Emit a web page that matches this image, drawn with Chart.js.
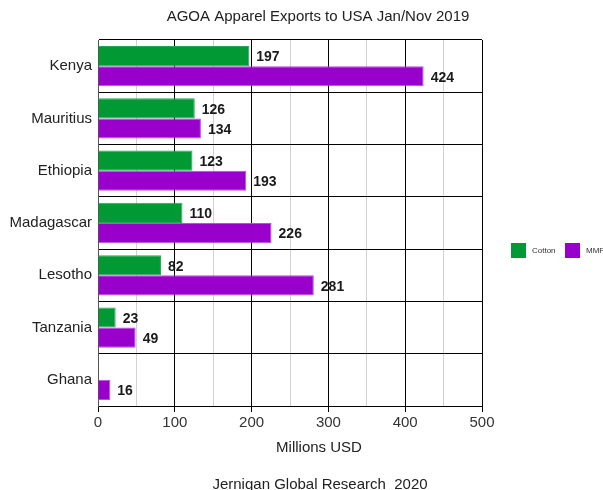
<!DOCTYPE html>
<html><head><meta charset="utf-8">
<script src="https://cdn.jsdelivr.net/npm/chart.js@4"></script>
<style>html,body{margin:0;padding:0;background:#fff}#wrap{width:603px;height:490px}</style>
</head><body><div id="wrap"><canvas id="c" width="603" height="490"></canvas></div>
<script>
const categories = ["Kenya","Mauritius","Ethiopia","Madagascar","Lesotho","Tanzania","Ghana"];
const cotton = [197,126,123,110,82,23,null];
const mmf = [424,134,193,226,281,49,16];
const xTicks = [0,100,200,300,400,500];
const titleText = "AGOA Apparel Exports to USA Jan/Nov 2019";
const xTitle = "Millions USD";
const footerText = "Jernigan Global Research  2020";
const FONT = "'Liberation Sans', Arial, sans-serif";

const textPlugin = {
  id: 'texts',
  afterDraw(chart) {
    const ctx = chart.ctx;
    ctx.save();
    ctx.fillStyle = '#222';
    ctx.textAlign = 'center';
    ctx.textBaseline = 'middle';
    ctx.font = '15px ' + FONT;
    ctx.fillText(titleText, 318, 17);
    ctx.fillText(xTitle, 319, 448);
    ctx.fillText(footerText, 320, 485);
    // legend
    ctx.textAlign = 'left';
    ctx.font = '8px ' + FONT;
    const items = chart.data.datasets;
    const xs = [511, 565];
    items.forEach((d, i) => {
      ctx.fillStyle = d.backgroundColor;
      ctx.fillRect(xs[i], 243, 15, 15);
      ctx.fillStyle = '#333';
      ctx.fillText(d.label, xs[i] + 21, 251);
    });
    ctx.restore();
  }
};
const labelPlugin = {
  id: 'vals',
  afterDatasetsDraw(chart) {
    const ctx = chart.ctx;
    ctx.save();
    ctx.font = 'bold 14px ' + FONT;
    ctx.fillStyle = '#1a1a1a';
    ctx.textAlign = 'left';
    ctx.textBaseline = 'middle';
    chart.data.datasets.forEach((ds, di) => {
      chart.getDatasetMeta(di).data.forEach((bar, i) => {
        const v = ds.data[i];
        if (v === null || v === undefined) return;
        ctx.fillText(String(v), bar.x + 7, bar.y + 1.5);
      });
    });
    ctx.restore();
  }
};

new Chart(document.getElementById('c'), {
  type: 'bar',
  data: {
    labels: categories,
    datasets: [
      {label: 'Cotton', data: cotton, backgroundColor: '#009933', borderColor: '#2aa655', borderWidth: 1, categoryPercentage: 0.77, barPercentage: 1.0},
      {label: 'MMF', data: mmf, backgroundColor: '#9900cc', borderColor: '#b44ee0', borderWidth: 1, categoryPercentage: 0.77, barPercentage: 1.0}
    ]
  },
  options: {
    indexAxis: 'y',
    responsive: false,
    animation: false,
    layout: {padding: {top: 40, right: 121, bottom: 0, left: 0}},
    plugins: {legend: {display: false}, title: {display: false}, tooltip: {enabled: false}},
    scales: {
      x: {
        min: 0, max: 500,
        afterBuildTicks(scale) { scale.ticks = []; for (let v = 0; v <= 500; v += 50) scale.ticks.push({value: v}); },
        afterFit(scale) { scale.height = 84; },
        ticks: {
          font: {size: 15, family: FONT}, color: '#333', padding: 2,
          callback: (v) => xTicks.includes(v) ? String(v) : ''
        },
        grid: {
          color: (c) => (c.tick && c.tick.value % 100 === 0) ? '#000' : '#d0d0d0',
          tickColor: (c) => (c.tick && c.tick.value % 100 === 0) ? '#000' : 'rgba(0,0,0,0)',
          tickLength: 6, lineWidth: 1
        },
        border: {color: '#000'}
      },
      y: {
        afterFit(scale) { scale.width = 98; },
        ticks: {font: {size: 15, family: FONT}, color: '#222', padding: 6},
        grid: {color: '#000', drawTicks: false, offset: true, lineWidth: 1},
        border: {color: '#555'}
      }
    }
  },
  plugins: [labelPlugin, textPlugin]
});
</script></body></html>
